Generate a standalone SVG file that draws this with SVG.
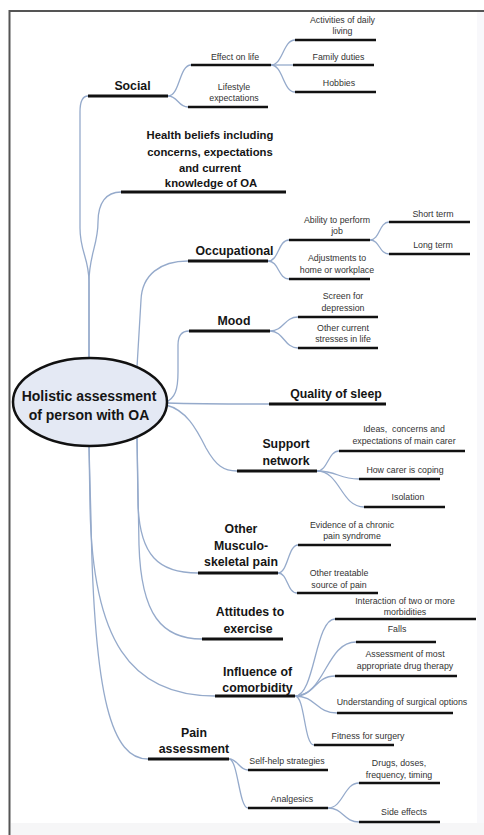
<svg xmlns="http://www.w3.org/2000/svg" width="484" height="835" viewBox="0 0 484 835">
<style>
.bg{fill:#ffffff}
.frame{stroke:#555;stroke-width:2;fill:none}
.c{fill:none;stroke:#95aacb;stroke-width:1.3}
.u{stroke:#111;stroke-width:3;stroke-linecap:butt}
.us{stroke:#111;stroke-width:2.6}
.m{font-family:"Liberation Sans",Arial,sans-serif;font-weight:bold;font-size:12.3px;fill:#151515;text-anchor:middle}
.h{font-family:"Liberation Sans",Arial,sans-serif;font-weight:bold;font-size:11.3px;fill:#151515;text-anchor:middle}
.s{font-family:"Liberation Sans",Arial,sans-serif;font-size:8.8px;fill:#333;text-anchor:middle}
.root{font-family:"Liberation Sans",Arial,sans-serif;font-weight:bold;font-size:14px;fill:#151515;text-anchor:middle}
</style>
<rect class="bg" x="0" y="0" width="484" height="835"/>
<rect x="477" y="12" width="7" height="823" fill="#f8f8fb"/>
<rect x="11" y="823" width="473" height="12" fill="#f6f6f7"/>
<path class="frame" d="M9.5 835 L9.5 11 L484 11"/>

<g id="connectors">
<path class="c" d="M89 358 L89 282 C89 258 80 252 80 228 L80 112 C80 101 83 96 88 96"/>
<path class="c" d="M89 358 L89 282 C89 255 98 245 98 222 C98 203 106 192 121 192"/>
<path class="c" d="M137 367 L141 300 C142 275 160 261 188 261"/>
<path class="c" d="M166 402 C175 398 178 390 178 372 L178 345 C178 336 182 331 189 331"/>
<path class="c" d="M167 403 C200 404 240 404 269 404"/>
<path class="c" d="M166 405 C186 410 196 428 206 448 C216 466 224 471 237 471"/>
<path class="c" d="M137 437 L138 505 C140 555 158 573 198 573"/>
<path class="c" d="M137 437 L139 545 C141 615 162 639 202 639"/>
<path class="c" d="M89 446 L90 505 C92 640 130 696 215 696"/>
<path class="c" d="M89 446 L91 520 C94 700 112 759 148 759"/>
<path class="c" d="M168 96 C180 96 179 65 191 65"/>
<path class="c" d="M168 96 C178 96 178 107 188 107"/>
<path class="c" d="M271 65 C283 65 283 40 295 40"/>
<path class="c" d="M271 65 C282 65 282 65 293 65"/>
<path class="c" d="M271 65 C283 65 283 92 295 92"/>
<path class="c" d="M268 261 C279 261 278 240 289 240"/>
<path class="c" d="M268 261 C279 261 278 279 289 279"/>
<path class="c" d="M370 240 C380 240 379 222 389 222"/>
<path class="c" d="M370 240 C380 240 379 254 389 254"/>
<path class="c" d="M270 331 C284 331 284 317 298 317"/>
<path class="c" d="M270 331 C284 331 284 348 298 348"/>
<path class="c" d="M317 471 C328 471 328 451 339 451"/>
<path class="c" d="M317 471 C338 471 338 479 359 479"/>
<path class="c" d="M317 471 C340 471 341 507 364 507"/>
<path class="c" d="M278 573 C288 573 288 545 298 545"/>
<path class="c" d="M278 573 C288 573 287 593 297 593"/>
<path class="c" d="M295 696 C315 696 315 619 335 619"/>
<path class="c" d="M295 696 C325 696 326 642 356 642"/>
<path class="c" d="M295 696 C315 696 315 676 335 676"/>
<path class="c" d="M295 696 C316 696 316 713 337 713"/>
<path class="c" d="M295 696 C305 696 304 745 314 745"/>
<path class="c" d="M229 759 C238 759 239 770 248 770"/>
<path class="c" d="M229 759 C238 759 239 808 248 808"/>
<path class="c" d="M328 808 C343 808 344 783 359 783"/>
<path class="c" d="M328 808 C343 808 344 822 359 822"/>
</g>

<g id="root">
<ellipse cx="90" cy="402" rx="77" ry="44" fill="#e4e9f4" stroke="#111" stroke-width="2.5"/>
<text class="root" x="89" y="401">Holistic assessment</text>
<text class="root" x="89" y="420">of person with OA</text>
</g>

<g id="social"><text class="m" x="132.5" y="90">Social</text><line class="u" x1="88" y1="96" x2="168" y2="96"/></g>
<g id="effect-on-life"><text class="s" x="235" y="60">Effect on life</text><line class="us" x1="191" y1="65" x2="271" y2="65"/></g>
<g id="lifestyle"><text class="s" x="234" y="90">Lifestyle</text><text class="s" x="234" y="101">expectations</text><line class="us" x1="188" y1="107" x2="268" y2="107"/></g>
<g id="activities"><text class="s" x="342.5" y="23">Activities of daily</text><text class="s" x="342.5" y="34">living</text><line class="us" x1="295" y1="40" x2="376" y2="40"/></g>
<g id="family"><text class="s" x="338.5" y="60">Family duties</text><line class="us" x1="293" y1="65" x2="374" y2="65"/></g>
<g id="hobbies"><text class="s" x="339" y="86">Hobbies</text><line class="us" x1="295" y1="92" x2="376" y2="92"/></g>

<g id="health-beliefs"><text class="h" x="210" y="139">Health beliefs including</text><text class="h" x="210" y="155.5">concerns, expectations</text><text class="h" x="210" y="171.5">and current</text><text class="h" x="211" y="187">knowledge of OA</text><line class="u" x1="121" y1="192" x2="286" y2="192"/></g>

<g id="occupational"><text class="m" x="234.5" y="255">Occupational</text><line class="u" x1="188" y1="261" x2="268" y2="261"/></g>
<g id="ability"><text class="s" x="337" y="223">Ability to perform</text><text class="s" x="337" y="234">job</text><line class="us" x1="289" y1="240" x2="370" y2="240"/></g>
<g id="adjustments"><text class="s" x="337" y="261">Adjustments to</text><text class="s" x="337" y="273">home or workplace</text><line class="us" x1="289" y1="279" x2="370" y2="279"/></g>
<g id="short-term"><text class="s" x="433" y="217">Short term</text><line class="us" x1="389" y1="222" x2="470" y2="222"/></g>
<g id="long-term"><text class="s" x="433" y="248">Long term</text><line class="us" x1="389" y1="254" x2="470" y2="254"/></g>

<g id="mood"><text class="m" x="234" y="325">Mood</text><line class="u" x1="189" y1="331" x2="270" y2="331"/></g>
<g id="screen"><text class="s" x="343" y="299">Screen for</text><text class="s" x="343" y="311">depression</text><line class="us" x1="298" y1="317" x2="378" y2="317"/></g>
<g id="stresses"><text class="s" x="343" y="331">Other current</text><text class="s" x="343" y="342">stresses in life</text><line class="us" x1="298" y1="348" x2="378" y2="348"/></g>

<g id="sleep"><text class="m" x="336" y="398">Quality of sleep</text><line class="u" x1="269" y1="404" x2="386" y2="404"/></g>

<g id="support"><text class="m" x="286" y="448">Support</text><text class="m" x="286" y="465">network</text><line class="u" x1="237" y1="471" x2="317" y2="471"/></g>
<g id="ideas"><text class="s" x="404" y="432" xml:space="preserve">Ideas,  concerns and</text><text class="s" x="404" y="444">expectations of main carer</text><line class="us" x1="339" y1="451" x2="465" y2="451"/></g>
<g id="coping"><text class="s" x="405" y="473">How carer is coping</text><line class="us" x1="359" y1="479" x2="440" y2="479"/></g>
<g id="isolation"><text class="s" x="408" y="500">Isolation</text><line class="us" x1="364" y1="507" x2="445" y2="507"/></g>

<g id="other-msk"><text class="m" x="241" y="533">Other</text><text class="m" x="241" y="549.5">Musculo-</text><text class="m" x="241" y="566">skeletal pain</text><line class="u" x1="198" y1="573" x2="278" y2="573"/></g>
<g id="chronic"><text class="s" x="352" y="528">Evidence of a chronic</text><text class="s" x="352" y="539">pain syndrome</text><line class="us" x1="298" y1="545" x2="391" y2="545"/></g>
<g id="treatable"><text class="s" x="339" y="576">Other treatable</text><text class="s" x="339" y="588">source of pain</text><line class="us" x1="297" y1="593" x2="378" y2="593"/></g>

<g id="attitudes"><text class="m" x="250" y="616">Attitudes to</text><text class="m" x="248" y="633">exercise</text><line class="u" x1="202" y1="639" x2="283" y2="639"/></g>

<g id="influence"><text class="m" x="257.5" y="676">Influence of</text><text class="m" x="257.5" y="692">comorbidity</text><line class="u" x1="215" y1="696" x2="295" y2="696"/></g>
<g id="interaction"><text class="s" x="405" y="604">Interaction of two or more</text><text class="s" x="405" y="615">morbidities</text><line class="us" x1="335" y1="619" x2="476" y2="619"/></g>
<g id="falls"><text class="s" x="397" y="632">Falls</text><line class="us" x1="356" y1="642" x2="436" y2="642"/></g>
<g id="drug-therapy"><text class="s" x="405" y="657">Assessment of most</text><text class="s" x="405" y="669">appropriate drug therapy</text><line class="us" x1="335" y1="676" x2="457" y2="676"/></g>
<g id="surgical"><text class="s" x="402" y="705">Understanding of surgical options</text><line class="us" x1="337" y1="713" x2="453" y2="713"/></g>
<g id="fitness"><text class="s" x="368" y="739">Fitness for surgery</text><line class="us" x1="314" y1="745" x2="394" y2="745"/></g>

<g id="pain"><text class="m" x="194" y="737">Pain</text><text class="m" x="194" y="753">assessment</text><line class="u" x1="148" y1="759" x2="229" y2="759"/></g>
<g id="self-help"><text class="s" x="287" y="764">Self-help strategies</text><line class="us" x1="248" y1="770" x2="328" y2="770"/></g>
<g id="analgesics"><text class="s" x="292" y="802">Analgesics</text><line class="us" x1="248" y1="808" x2="328" y2="808"/></g>
<g id="drugs"><text class="s" x="399" y="766">Drugs, doses,</text><text class="s" x="399" y="778">frequency, timing</text><line class="us" x1="359" y1="783" x2="440" y2="783"/></g>
<g id="side-effects"><text class="s" x="404" y="815">Side effects</text><line class="us" x1="359" y1="822" x2="440" y2="822"/></g>
</svg>
